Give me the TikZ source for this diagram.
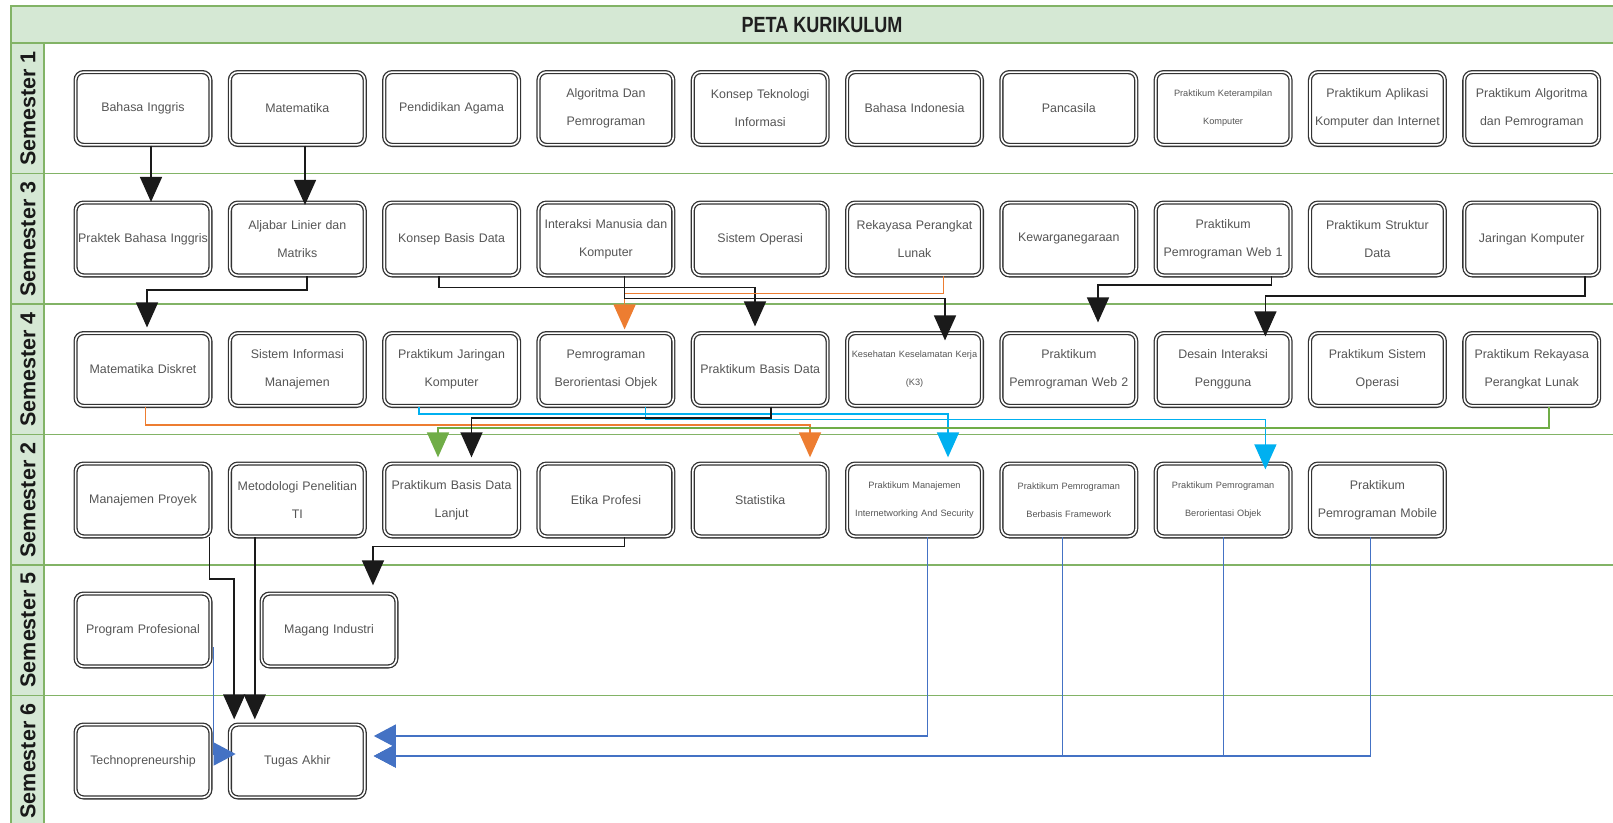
\documentclass[tikz,border=0pt]{standalone}
\usepackage{fontspec}
\usepackage{graphicx}
\setmainfont{Liberation Sans}
\usetikzlibrary{arrows.meta}
\definecolor{lanegreen}{HTML}{82B366}
\definecolor{lanefill}{HTML}{D5E8D4}
\definecolor{boxtext}{HTML}{555555}
\definecolor{conorange}{HTML}{ED7D31}
\definecolor{consky}{HTML}{00B0F0}
\definecolor{congreen}{HTML}{70AD47}
\definecolor{conblue}{HTML}{4472C4}
\definecolor{conblack}{HTML}{1A1A1A}
\begin{document}
\begin{tikzpicture}[x=1pt,y=-1pt,
  course/.style={draw=black!80, line width=1.3pt, double=white, double distance=1.6pt,
    rounded corners=8pt, minimum width=134.8pt, minimum height=72.8pt, inner sep=0pt,
    text width=134pt, align=center, text=boxtext, font=\fontsize{12.4}{28}\selectfont},
  smalltext/.style={font=\fontsize{9.2}{28}\selectfont},
  lanelabel/.style={rotate=90, font=\bfseries\fontsize{21.5}{24}\selectfont, text=black!90},
  laneline/.style={draw=lanegreen, line width=1.6pt},
  blk/.style={draw=conblack, line width=1.5pt, -{Triangle[width=22pt,length=25pt]}},
  org/.style={draw=conorange, line width=1.5pt, -{Triangle[width=22pt,length=25pt]}},
  sky/.style={draw=consky, line width=1.5pt, -{Triangle[width=22pt,length=25pt]}},
  grn/.style={draw=congreen, line width=1.5pt, -{Triangle[width=22pt,length=25pt]}},
  rbl/.style={draw=conblue, line width=1.2pt, -{Triangle[width=23pt,length=22pt]}}
]
\useasboundingbox (0,0) rectangle (1613,822);
\fill[white] (0,0) rectangle (1613,822);
\begin{scope}
\clip (0,0) rectangle (1613,822);
\fill[lanefill] (11,6) rectangle (1680,43);
\fill[lanefill] (11,43) rectangle (44,900);
\draw[laneline] (11,900) -- (11,6) -- (1680,6);
\foreach \yy in {43,173.5,304,434.5,565,695.5} {\draw[laneline] (11,\yy) -- (1680,\yy);}
\draw[laneline] (44,43) -- (44,900);
\end{scope}

\node[font=\bfseries\fontsize{22}{24}\selectfont, text=black!88] (title) at (822,25) {\scalebox{0.82}[1]{PETA KURIKULUM}};
\node[lanelabel] (l1) at (28,108.5) {Semester 1};
\node[lanelabel] (l3) at (28,239) {Semester 3};
\node[lanelabel] (l4) at (28,369.5) {Semester 4};
\node[lanelabel] (l2) at (28,500) {Semester 2};
\node[lanelabel] (l5) at (28,630) {Semester 5};
\node[lanelabel] (l6) at (28,761) {Semester 6};

% Semester 1
\node[course] (a1) at (143,108.5) {Bahasa Inggris};
\node[course] (a2) at (297.3,108.5) {Matematika};
\node[course] (a3) at (451.6,108.5) {Pendidikan Agama};
\node[course] (a4) at (605.9,108.5) {Algoritma Dan\\Pemrograman};
\node[course] (a5) at (760.2,108.5) {Konsep Teknologi\\Informasi};
\node[course] (a6) at (914.5,108.5) {Bahasa Indonesia};
\node[course] (a7) at (1068.8,108.5) {Pancasila};
\node[course,smalltext] (a8) at (1223.1,108.5) {Praktikum Keterampilan\\Komputer};
\node[course] (a9) at (1377.4,108.5) {Praktikum Aplikasi\\Komputer dan Internet};
\node[course] (a10) at (1531.7,108.5) {Praktikum Algoritma\\dan Pemrograman};
% Semester 3
\node[course] (b1) at (143,239) {Praktek Bahasa Inggris};
\node[course] (b2) at (297.3,239) {Aljabar Linier dan\\Matriks};
\node[course] (b3) at (451.6,239) {Konsep Basis Data};
\node[course] (b4) at (605.9,239) {Interaksi Manusia dan\\Komputer};
\node[course] (b5) at (760.2,239) {Sistem Operasi};
\node[course] (b6) at (914.5,239) {Rekayasa Perangkat\\Lunak};
\node[course] (b7) at (1068.8,239) {Kewarganegaraan};
\node[course] (b8) at (1223.1,239) {Praktikum\\Pemrograman Web 1};
\node[course] (b9) at (1377.4,239) {Praktikum Struktur\\Data};
\node[course] (b10) at (1531.7,239) {Jaringan Komputer};
% Semester 4
\node[course] (c1) at (143,369.5) {Matematika Diskret};
\node[course] (c2) at (297.3,369.5) {Sistem Informasi\\Manajemen};
\node[course] (c3) at (451.6,369.5) {Praktikum Jaringan\\Komputer};
\node[course] (c4) at (605.9,369.5) {Pemrograman\\Berorientasi Objek};
\node[course] (c5) at (760.2,369.5) {Praktikum Basis Data};
\node[course,smalltext] (c6) at (914.5,369.5) {Kesehatan Keselamatan Kerja\\(K3)};
\node[course] (c7) at (1068.8,369.5) {Praktikum\\Pemrograman Web 2};
\node[course] (c8) at (1223.1,369.5) {Desain Interaksi\\Pengguna};
\node[course] (c9) at (1377.4,369.5) {Praktikum Sistem\\Operasi};
\node[course] (c10) at (1531.7,369.5) {Praktikum Rekayasa\\Perangkat Lunak};
% Semester 2
\node[course] (d1) at (143,500) {Manajemen Proyek};
\node[course] (d2) at (297.3,500) {Metodologi Penelitian\\TI};
\node[course] (d3) at (451.6,500) {Praktikum Basis Data\\Lanjut};
\node[course] (d4) at (605.9,500) {Etika Profesi};
\node[course] (d5) at (760.2,500) {Statistika};
\node[course,smalltext] (d6) at (914.5,500) {Praktikum Manajemen\\Internetworking And Security};
\node[course,smalltext] (d7) at (1068.8,500) {Praktikum Pemrograman\\Berbasis Framework};
\node[course,smalltext] (d8) at (1223.1,500) {Praktikum Pemrograman\\Berorientasi Objek};
\node[course] (d9) at (1377.4,500) {Praktikum\\Pemrograman Mobile};
% Semester 5
\node[course] (e1) at (143,630) {Program Profesional};
\node[course] (e2) at (329,630) {Magang Industri};
% Semester 6
\node[course] (f1) at (143,761) {Technopreneurship};
\node[course] (f2) at (297.3,761) {Tugas Akhir};

% Connectors Sem1 -> Sem3
\draw[blk] ([xshift=8]a1.south) -- ([xshift=8]b1.north);
\draw[blk] ([xshift=7.7]a2.south) -- ([xshift=7.7,yshift=-3]b2.north);
% Sem3 -> Sem4
\draw[blk] ([xshift=9.7]b2.south) |- (220,290) -| ([xshift=4,yshift=5]c1.north);
\draw[blk] ([xshift=-12.6]b3.south) |- (600,287.5) -| ([xshift=-5.2,yshift=6]c5.north);
\draw[org] ([xshift=28.9]b6.south) |- (800,293.3) -| ([xshift=18.7,yshift=3]c4.north);
\draw[blk] ([xshift=18.7]b4.south) |- (800,298.5) -| ([xshift=30.5,yshift=-8]c6.north);
\draw[blk] ([xshift=48.4]b8.south) |- (1150,285) -| ([xshift=29.2,yshift=10]c7.north);
\draw[blk] ([xshift=53.3]b10.south) |- (1400,296) -| ([xshift=42.3,yshift=-4]c8.north);
% Sem4 -> Sem2
\draw[org] ([xshift=2.4]c1.south) |- (500,425) -| ([xshift=49.8,yshift=5.6]d5.north);
\draw[sky] ([xshift=-32.6]c3.south) |- (700,414) -| ([xshift=33.5,yshift=5.6]d6.north);
\draw[sky] ([xshift=39.8]c4.south) |- (1000,419.5) -| ([xshift=42.3,yshift=-6.4]d8.north);
\draw[grn] ([xshift=17.3]c10.south) |- (1000,428) -| ([xshift=-13.6,yshift=5.6]d3.north);
\draw[blk] ([xshift=10.6]c5.south) |- (600,418) -| ([xshift=19.9,yshift=5.6]d3.north);
% Sem2 -> Sem5/6
\draw[blk] ([xshift=18.7]d4.south) |- (500,546.7) -| ([xshift=44,yshift=7.6]e2.north);
\draw[blk] ([xshift=66.7]d1.south) |- (220,579) -| ([xshift=-63.1,yshift=4.6]f2.north);
\draw[blk] ([xshift=-42.5]d2.south) -- ([xshift=-42.5,yshift=4.6]f2.north);
\draw[rbl] ([xshift=2.6,yshift=-17]e1.east) |- ([xshift=6.4,yshift=7]f2.west);
\draw[rbl] ([xshift=13.2]d6.south) |- ([xshift=8.5,yshift=25]f2.east);
\draw[rbl] ([xshift=-6.3]d7.south) |- ([xshift=8.5,yshift=5]f2.east);
\draw[rbl] ([xshift=0]d8.south) |- ([xshift=8.5,yshift=5]f2.east);
\draw[rbl] ([xshift=-7]d9.south) |- ([xshift=8.5,yshift=5]f2.east);
\end{tikzpicture}
\end{document}
